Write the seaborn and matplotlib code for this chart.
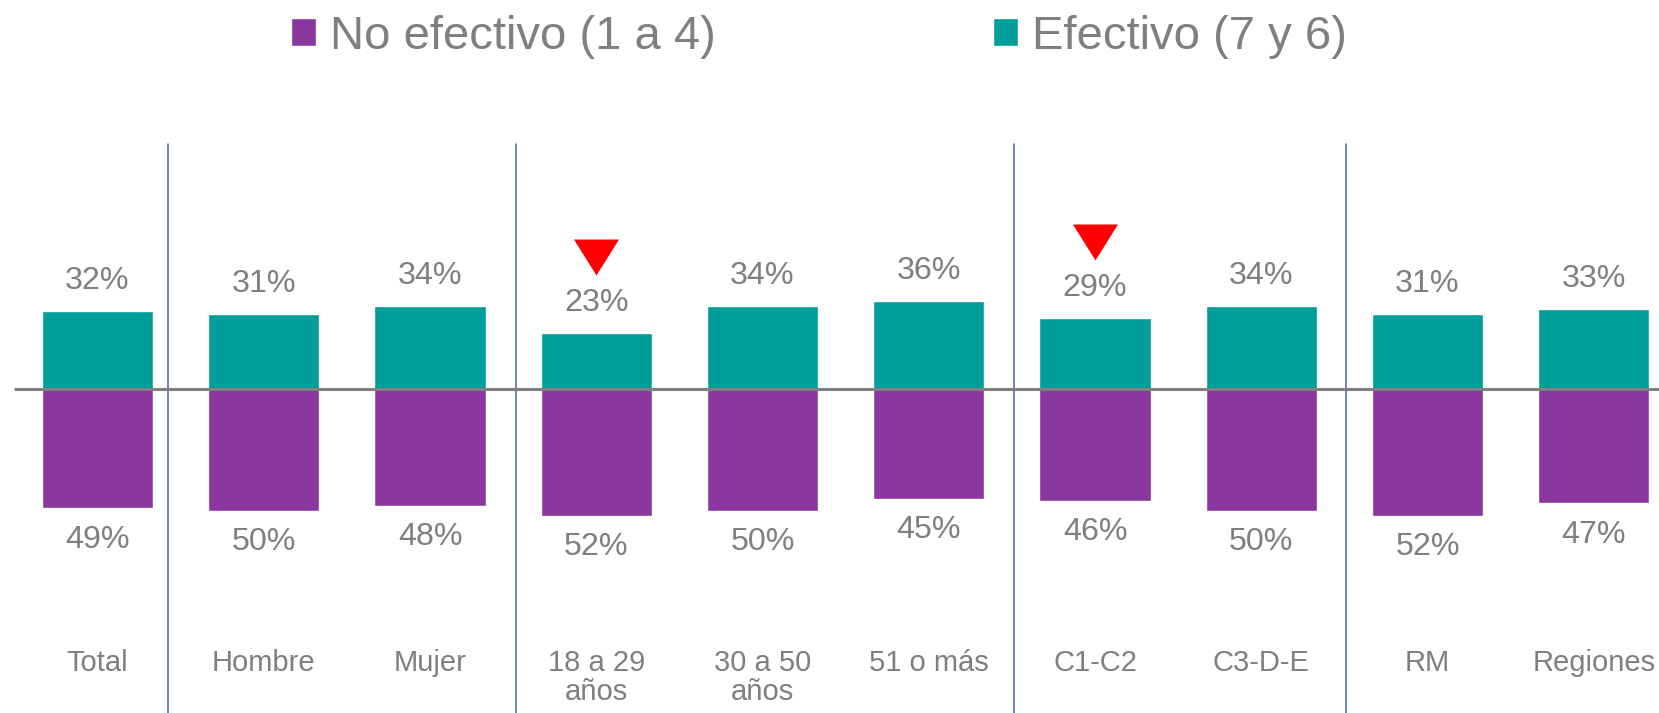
import matplotlib
matplotlib.use("Agg")
import matplotlib.pyplot as plt
import seaborn as sns
import pandas as pd
from matplotlib.path import Path
from matplotlib.patches import Patch

categories = ["Total", "Hombre", "Mujer", "18 a 29\naños", "30 a 50\naños", "51 o más",
              "C1-C2", "C3-D-E", "RM", "Regiones"]
efectivo = [32, 31, 34, 23, 34, 36, 29, 34, 31, 33]
no_efectivo = [49, 50, 48, 52, 50, 45, 46, 50, 52, 47]
down_flags = [0, 0, 0, 1, 0, 0, 1, 0, 0, 0]
series_names = ["No efectivo (1 a 4)", "Efectivo (7 y 6)"]
separators = [0.424, 2.52, 5.51, 7.51]

PURPLE = "#8A379F"
TEAL = "#009E9B"
GREY = "#7F7F7F"
SEP = "#4F5FA8"

sns.set_style("white")
plt.rcParams["font.family"] = ["Liberation Sans", "DejaVu Sans"]

df = pd.DataFrame({
    "cat": categories * 2,
    "val": [-v for v in no_efectivo] + efectivo,
    "serie": [series_names[0]] * len(categories) + [series_names[1]] * len(categories),
})

W, H = 1659, 713
fig = plt.figure(figsize=(W / 100, H / 100), dpi=100)
ax = fig.add_axes([0, 0, 1, 1])

sns.barplot(data=df, x="cat", y="val", hue="serie", order=categories,
            hue_order=series_names, palette=[PURPLE, TEAL], dodge=False,
            width=0.668, ax=ax, legend=False, saturation=1, errorbar=None)

x0_px, step_px = 97.5, 166.25
ppu = 2.435
base_py = 389
ax.set_xlim(-x0_px / step_px, (W - x0_px) / step_px)
ax.set_ylim((base_py - H) / ppu, base_py / ppu)
ax.axis("off")

def py(p):
    return (base_py - p) / ppu

# baseline
ax.plot([(14 - x0_px) / step_px, (W - x0_px) / step_px], [0, 0],
        color="#808080", lw=2.2, zorder=5, solid_capstyle="butt")

# separators
for s in separators:
    ax.plot([s, s], [py(H), py(144)], color=SEP, lw=1.1, zorder=1)

# value labels
for i, (e, n) in enumerate(zip(efectivo, no_efectivo)):
    ax.text(i, e + 12.3, f"{e}%", ha="center", va="center", fontsize=23.2, color=GREY)
    ax.text(i, -(n + 12.9), f"{n}%", ha="center", va="center", fontsize=23.2, color=GREY)

# category labels
for i, c in enumerate(categories):
    ax.text(i, py(649), c, ha="center", va="top", fontsize=21,
            color=GREY, linespacing=1.05)

# down triangles
tri = Path([(-1, 0.8), (1, 0.8), (0, -0.8), (-1, 0.8)],
           [Path.MOVETO, Path.LINETO, Path.LINETO, Path.CLOSEPOLY])
for i, f in enumerate(down_flags):
    if f:
        ax.plot(i, efectivo[i] + 31.2, marker=tri, markersize=32.4, color="#FF0000",
                markeredgewidth=0, linestyle="none")

# legend
handles = [Patch(facecolor=PURPLE), Patch(facecolor=TEAL)]
fig.legend(handles, series_names, loc="upper left", bbox_to_anchor=(291 / W, 1 - 15 / H),
           ncol=2, frameon=False, fontsize=34, labelcolor=GREY,
           handlelength=0.53, handleheight=0.53, handletextpad=0.3,
           columnspacing=5.87, borderaxespad=0, borderpad=0)

fig.savefig("out.png", dpi=100)
